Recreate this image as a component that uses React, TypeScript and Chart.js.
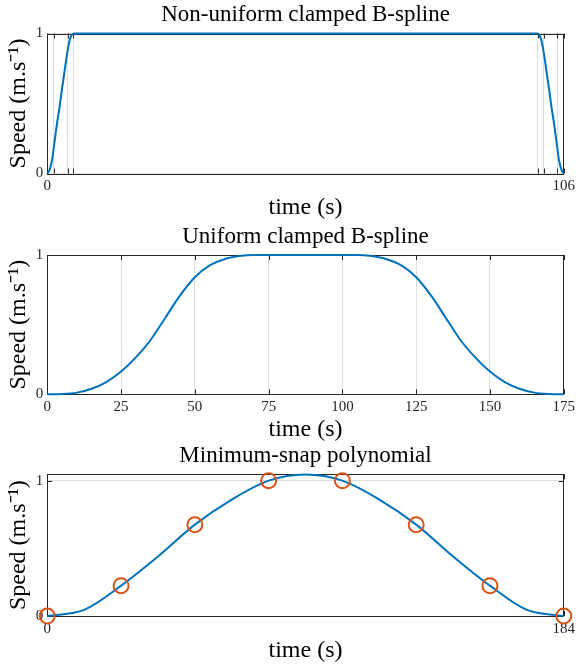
import React, { useEffect, useRef } from "react";
import { Chart, registerables } from "chart.js";

Chart.register(...registerables);

// ---------- Panel 1: Non-uniform clamped B-spline ----------
const nuTimes = [0, 0.5, 1, 1.5, 2, 2.5, 3, 3.5, 4, 4.5, 5, 5.5, 100.5, 101, 101.5, 102, 102.5, 103, 103.5, 104, 104.5, 105, 105.5, 106];
const nuSpeeds = [0, 0.03, 0.1, 0.23, 0.36, 0.47, 0.6, 0.72, 0.84, 0.94, 0.99, 1, 1, 0.99, 0.94, 0.84, 0.72, 0.6, 0.47, 0.36, 0.23, 0.1, 0.03, 0];
const nuKnotTicks = [0, 1.3, 4.15, 5.35, 100.65, 101.85, 104.7, 106];
const nuTickLabels = [0, 106];

// ---------- Panel 2: Uniform clamped B-spline ----------
const uTimes = [0, 5, 10, 15, 20, 25, 30, 35, 40, 45, 50, 55, 60, 65, 70, 75, 80, 85, 90, 95, 100, 105, 110, 115, 120, 125, 130, 135, 140, 145, 150, 155, 160, 165, 170, 175];
const uSpeeds = [0, 0.002, 0.012, 0.04, 0.088, 0.163, 0.265, 0.39, 0.55, 0.71, 0.84, 0.925, 0.97, 0.992, 1, 1, 1, 1, 1, 1, 1, 1, 0.992, 0.97, 0.925, 0.84, 0.71, 0.55, 0.39, 0.265, 0.163, 0.088, 0.04, 0.012, 0.002, 0];
const uTicks = [0, 25, 50, 75, 100, 125, 150, 175];

// ---------- Panel 3: Minimum-snap polynomial ----------
const msTimes = [0, 13.14, 26.29, 39.43, 52.57, 65.71, 78.86, 92, 105.14, 118.29, 131.43, 144.57, 157.71, 170.86, 184];
const msSpeeds = [0, 0.045, 0.224, 0.44, 0.675, 0.86, 1.0, 1.045, 1.0, 0.86, 0.675, 0.44, 0.224, 0.045, 0];
const wpTimes = [0, 26.29, 52.57, 78.86, 105.14, 131.43, 157.71, 184];
const wpSpeeds = [0, 0.224, 0.675, 1.0, 1.0, 0.675, 0.224, 0];
const msTicks = [0, 184];

const speedTicks = [0, 1];

const FONT = "'Liberation Serif', 'Times New Roman', serif";
const LINE_BLUE = "#0072BD";
const MARK_ORANGE = "#D95319";
const AXIS_DARK = "#262626";
const GRID = "#dedede";

type PanelCfg = {
  title: string;
  height: number;
  titlePadTop: number;
  titlePadBottom: number;
  xHeight: number;
  xTitlePadBottom: number;
  xMin: number;
  xMax: number;
  yMax: number;
  xTicks: number[];
  xLabels: number[];
  yTicks: number[];
  datasets: any[];
};

const boxPlugin = {
  id: "boxAndInwardTicks",
  beforeDatasetsDraw(chart: any) {
    const { ctx, chartArea } = chart;
    const { left, right, top, bottom } = chartArea;
    const xs = chart.scales.x;
    const ys = chart.scales.y;
    const len = 5;
    ctx.save();
    ctx.strokeStyle = AXIS_DARK;
    ctx.lineWidth = 1;
    ctx.beginPath();
    for (const t of xs.ticks) {
      const px = Math.round(xs.getPixelForValue(t.value)) + 0.5;
      ctx.moveTo(px, bottom);
      ctx.lineTo(px, bottom - len);
      ctx.moveTo(px, top);
      ctx.lineTo(px, top + len);
    }
    for (const t of ys.ticks) {
      const py = Math.round(ys.getPixelForValue(t.value)) + 0.5;
      ctx.moveTo(left, py);
      ctx.lineTo(left + len, py);
      ctx.moveTo(right, py);
      ctx.lineTo(right - len, py);
    }
    ctx.stroke();
    ctx.strokeRect(Math.round(left) + 0.5, Math.round(top) + 0.5, Math.round(right - left), Math.round(bottom - top));
    ctx.restore();
  },
};

function makeConfig(p: PanelCfg): any {
  return {
    type: "scatter",
    data: { datasets: p.datasets },
    plugins: [boxPlugin],
    options: {
      animation: false,
      responsive: false,
      devicePixelRatio: 1,
      layout: { padding: { left: 0, right: 13.3, top: 0, bottom: 0 } },
      plugins: {
        legend: { display: false },
        tooltip: { enabled: false },
        title: {
          display: true,
          text: p.title,
          fullSize: false,
          color: "#000",
          font: { family: FONT, size: 23, weight: "normal", lineHeight: 1 },
          padding: { top: p.titlePadTop, bottom: p.titlePadBottom },
        },
      },
      scales: {
        x: {
          type: "linear",
          min: p.xMin,
          max: p.xMax,
          afterBuildTicks: (s: any) => {
            s.ticks = p.xTicks.map((v) => ({ value: v }));
          },
          afterFit: (s: any) => {
            s.height = p.xHeight;
          },
          ticks: {
            autoSkip: false,
            maxRotation: 0,
            padding: 4,
            color: AXIS_DARK,
            font: { family: FONT, size: 15 },
            callback: (v: number) => (p.xLabels.includes(v) ? String(v) : ""),
          },
          grid: { color: GRID, drawTicks: false, lineWidth: 1 },
          border: { display: false },
          title: {
            display: true,
            text: "time (s)",
            color: "#000",
            font: { family: FONT, size: 24, lineHeight: 1 },
            padding: { top: 0, bottom: p.xTitlePadBottom },
          },
        },
        y: {
          type: "linear",
          min: 0,
          max: p.yMax,
          afterBuildTicks: (s: any) => {
            s.ticks = p.yTicks.map((v) => ({ value: v }));
          },
          afterFit: (s: any) => {
            s.width = 47.3;
          },
          ticks: {
            padding: 4,
            color: AXIS_DARK,
            font: { family: FONT, size: 15 },
            callback: (v: number) => String(v),
          },
          grid: { color: GRID, drawTicks: false, lineWidth: 1 },
          border: { display: false },
          title: {
            display: true,
            text: "Speed (m.s⁻¹)",
            color: "#000",
            font: { family: FONT, size: 24, lineHeight: 1 },
            padding: { top: 7, bottom: 0 },
          },
        },
      },
    },
  };
}

function curve(times: number[], speeds: number[]) {
  return {
    data: times.map((t, i) => ({ x: t, y: speeds[i] })),
    showLine: true,
    borderColor: LINE_BLUE,
    borderWidth: 2,
    pointRadius: 0,
    cubicInterpolationMode: "monotone",
    clip: false,
  };
}

function markers(times: number[], speeds: number[]) {
  return {
    data: times.map((t, i) => ({ x: t, y: speeds[i] })),
    showLine: false,
    pointStyle: "circle",
    pointRadius: 7.5,
    pointBorderWidth: 2,
    pointBorderColor: MARK_ORANGE,
    pointBackgroundColor: "rgba(0,0,0,0)",
    clip: false,
  };
}

const panels: PanelCfg[] = [
  {
    title: "Non-uniform clamped B-spline",
    height: 222,
    titlePadTop: 3.5,
    titlePadBottom: 7,
    xHeight: 48.5,
    xTitlePadBottom: 2,
    xMin: 0,
    xMax: 106,
    yMax: 1,
    xTicks: nuKnotTicks,
    xLabels: nuTickLabels,
    yTicks: speedTicks,
    datasets: [curve(nuTimes, nuSpeeds)],
  },
  {
    title: "Uniform clamped B-spline",
    height: 222,
    titlePadTop: 3.5,
    titlePadBottom: 6.5,
    xHeight: 49.7,
    xTitlePadBottom: 2,
    xMin: 0,
    xMax: 175,
    yMax: 1,
    xTicks: uTicks,
    xLabels: uTicks,
    yTicks: speedTicks,
    datasets: [curve(uTimes, uSpeeds)],
  },
  {
    title: "Minimum-snap polynomial",
    height: 222,
    titlePadTop: 0,
    titlePadBottom: 7.3,
    xHeight: 50,
    xTitlePadBottom: 3,
    xMin: 0,
    xMax: 184,
    yMax: 1.047,
    xTicks: msTicks,
    xLabels: msTicks,
    yTicks: speedTicks,
    datasets: [markers(wpTimes, wpSpeeds), curve(msTimes, msSpeeds)],
  },
];

function Panel({ cfg, top }: { cfg: PanelCfg; top: number }) {
  const ref = useRef<HTMLCanvasElement | null>(null);
  useEffect(() => {
    if (!ref.current) return;
    const chart = new Chart(ref.current, makeConfig(cfg));
    return () => chart.destroy();
  }, [cfg]);
  return (
    <canvas
      ref={ref}
      width={579}
      height={cfg.height}
      style={{ position: "absolute", left: 0, top, width: 579, height: cfg.height, display: "block" }}
    />
  );
}

export default function App() {
  return (
    <div style={{ position: "absolute", left: 0, top: 0, width: 579, height: 666, background: "#fff" }}>
      <Panel cfg={panels[0]} top={0} />
      <Panel cfg={panels[1]} top={222} />
      <Panel cfg={panels[2]} top={444} />
    </div>
  );
}
